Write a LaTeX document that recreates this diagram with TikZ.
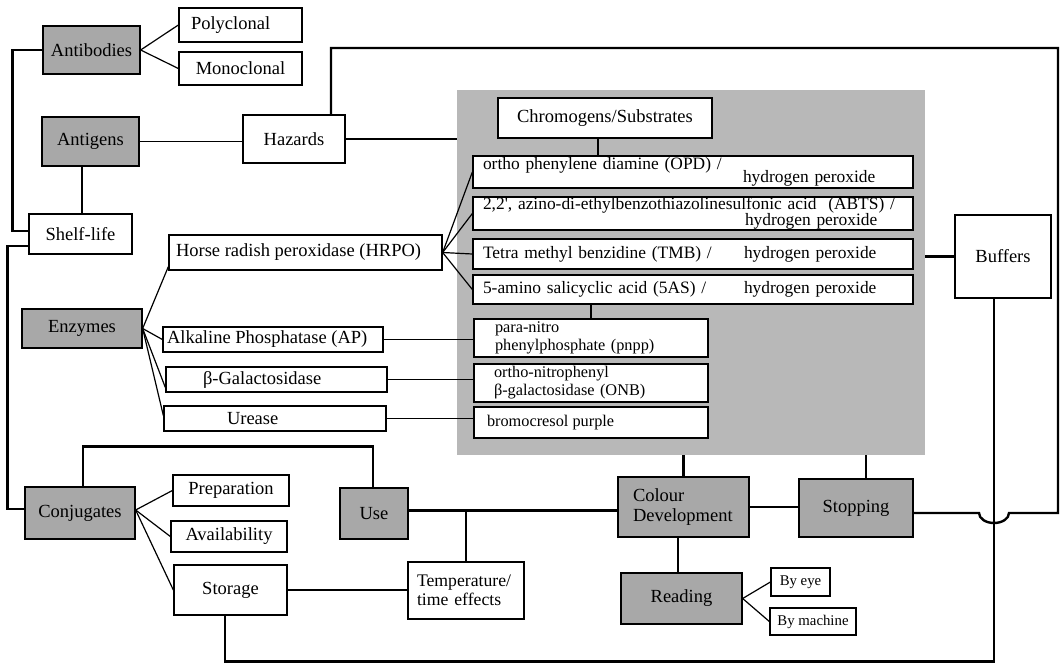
\documentclass[tikz,border=0pt]{standalone}
\usepackage{fontspec}
\setmainfont{Liberation Serif}
\usetikzlibrary{calc}
\definecolor{boxgray}{gray}{0.66}
\definecolor{areagray}{gray}{0.72}
\newcommand\fsMain{\fontsize{18.5}{20}\selectfont}
\newcommand\fsChem{\fontsize{17.4}{12.5}\selectfont\lineskiplimit=-50pt\relax}
\newcommand\fsSub{\fontsize{16.3}{18}\selectfont}
\newcommand\fsTemp{\fontsize{17.7}{19}\selectfont}
\newcommand\fsSmall{\fontsize{14.8}{16}\selectfont}
\begin{document}
\begin{tikzpicture}[x=1pt,y=-1pt,
  box/.style={draw, line width=1.3pt, fill=white, inner sep=0pt, font=\fsMain},
  shbox/.style={box, fill=boxgray},
  chem/.style={box, minimum width=440, text width=420pt, align=left, font=\fsChem},
  sub/.style={box, minimum width=234, align=left, font=\fsSub},
  thinln/.style={line width=1.2pt},
  thickln/.style={line width=2.4pt},
]
\useasboundingbox (0,0) rectangle (1060,664);

% shaded region holding the chromogen/substrate pairs
\node[fill=areagray, inner sep=0pt, minimum width=468, minimum height=365] (area) at (691,272.5) {};

% reagents
\node[shbox, minimum width=97, minimum height=48] (antibodies) at (91.5,50) {Antibodies};
\node[box, minimum width=123, minimum height=34] (polyclonal) at (240.5,25) {\makebox[99pt][l]{Polyclonal}};
\node[box, minimum width=123, minimum height=33] (monoclonal) at (240.5,68.5) {Monoclonal};
\node[shbox, minimum width=97, minimum height=49] (antigens) at (90.5,141.5) {Antigens};
\node[box, minimum width=102, minimum height=48] (hazards) at (294,139) {Hazards};
\node[box, minimum width=103, minimum height=40] (shelflife) at (80.5,234) {Shelf-life};

% enzymes
\node[shbox, minimum width=120, minimum height=39] (enzymes) at (82,328.5) {Enzymes};
\node[box, minimum width=273, minimum height=35] (hrpo) at (305.5,252.5) {\makebox[259pt][l]{Horse radish peroxidase (HRPO)}};
\node[box, minimum width=220, minimum height=25] (ap) at (273,339.5) {\makebox[212pt][l]{Alkaline Phosphatase (AP)}};
\node[box, minimum width=221, minimum height=25] (gal) at (276.5,379.5) {\makebox[147pt][l]{β-Galactosidase}};
\node[box, minimum width=222, minimum height=25] (urease) at (275,418.5) {\makebox[96pt][l]{Urease}};

% chromogens / substrates
\node[box, minimum width=214, minimum height=40] (chromo) at (605,118) {Chromogens/Substrates};
\node[chem, minimum height=32] (opd) at (693,172) {\mbox{ortho phenylene diamine (OPD) /}\\\hspace*{260pt}hydrogen peroxide};
\node[chem, minimum height=33] (abts) at (693,213.5) {\mbox{2,2\textquotesingle, azino-di-ethylbenzothiazolinesulfonic acid\ \ (ABTS) /}\\[3.5pt]\hspace*{262pt}hydrogen peroxide};
\node[chem, minimum height=30] (tmb) at (693,254) {\rlap{Tetra methyl benzidine (TMB) /}\hspace*{261pt}hydrogen peroxide};
\node[chem, minimum height=29] (fiveas) at (693,289.5) {\rlap{5-amino salicyclic acid (5AS) /}\hspace*{261pt}hydrogen peroxide};
\node[sub, minimum height=38, text width=192pt] (pnpp) at (591,338) {para-nitro\\\mbox{phenylphosphate (pnpp)}};
\node[sub, minimum height=38, text width=194pt] (onb) at (591,383) {\mbox{ortho-nitrophenyl}\\\mbox{β-galactosidase (ONB)}};
\node[box, font=\fsSub, minimum width=234, minimum height=31] (bromo) at (591,422.5) {\makebox[208pt][l]{bromocresol purple}};

\node[box, minimum width=96, minimum height=83] (buffers) at (1003,256.5) {Buffers};

% conjugates and assay steps
\node[shbox, minimum width=110, minimum height=52] (conjugates) at (80,513) {Conjugates};
\node[box, minimum width=116, minimum height=31] (preparation) at (231,490.5) {Preparation};
\node[box, minimum width=116, minimum height=31] (availability) at (229,536.5) {Availability};
\node[box, minimum width=113, minimum height=50] (storage) at (230.5,590) {Storage};
\node[shbox, minimum width=68, minimum height=51] (use) at (374,513.5) {Use};
\node[box, minimum width=116, minimum height=57, text width=98pt, align=left, font=\fsTemp] (temp) at (466,590.5) {\mbox{Temperature/}\\time effects};
\node[shbox, minimum width=131, minimum height=60, text width=101pt, align=left] (colour) at (683.5,507) {Colour\\\mbox{Development}};
\node[shbox, minimum width=114, minimum height=58] (stopping) at (856,508) {Stopping};
\node[shbox, minimum width=121, minimum height=51] (reading) at (681.5,598.5) {Reading};
\node[box, font=\fsSmall, minimum width=59, minimum height=28] (byeye) at (800.5,582) {By eye};
\node[box, font=\fsSmall, minimum width=86, minimum height=27] (bymachine) at (813,621.5) {By machine};

% helper points on node borders
\coordinate (ag) at ([xshift=-8.5pt]antigens.south);
\coordinate (hz) at ([xshift=37pt]hazards.north);
\coordinate (st) at ([yshift=-5pt]stopping.east);
\coordinate (bv) at ([xshift=-9pt]buffers.south);
\coordinate (ue) at ([yshift=3pt]use.east);
\coordinate (cs) at ([xshift=-5.5pt]colour.south);
\coordinate (sn) at ([xshift=10pt]stopping.north);
\coordinate (cb) at ([xshift=-7pt]chromo.south);

% thin branches
\draw[thinln] (antibodies.east) -- (polyclonal.west);
\draw[thinln] (antibodies.east) -- (monoclonal.west);
\draw[thinln] (antigens.east) -- (antigens.east -| hazards.west);
\draw[thinln] (hazards.east) -- (hazards.east -| area.west);
\draw[thinln] (cb) -- (cb |- opd.north);
\draw[thinln] (pnpp.north |- fiveas.south) -- (pnpp.north);
\draw[thinln] (enzymes.east) -- ([yshift=4pt]hrpo.south west);
\draw[thinln] (enzymes.east) -- (ap.west);
\draw[thinln] (enzymes.east) -- ([yshift=-8pt]gal.west);
\draw[thinln] (enzymes.east) -- ([yshift=3pt]urease.west);
\draw[thinln] (hrpo.east) -- (opd.west);
\draw[thinln] (hrpo.east) -- (abts.west);
\draw[thinln] (hrpo.east) -- (tmb.west);
\draw[thinln] (hrpo.east) -- (fiveas.west);
\draw[thinln] (ap.east) -- (ap.east -| pnpp.west);
\draw[thinln] (gal.east) -- (gal.east -| onb.west);
\draw[thinln] (urease.east) -- (urease.east -| bromo.west);
\draw[thinln] ([yshift=3pt]conjugates.east) -- (preparation.west);
\draw[thinln] ([yshift=3pt]conjugates.east) -- (availability.west);
\draw[thinln] ([yshift=3pt]conjugates.east) -- (storage.west);
\draw[thinln] (reading.east) -- (byeye.west);
\draw[thinln] (reading.east) -- (bymachine.west);

% thick links
\draw[thickln] (antibodies.west) -- ++(-30,0) |- ([yshift=3pt]shelflife.west);
\draw[thickln] (ag) -- (ag |- shelflife.north);
\draw[thickln] ([yshift=-12pt]shelflife.west) -- ++(-21,0) |- ([yshift=4pt]conjugates.west);
\draw[thickln] ([xshift=3pt]conjugates.north) -- ++(0,-40) -| ([xshift=-1pt]use.north);
\draw[thickln] (storage.east) -- (storage.east -| temp.west);
\draw[thickln] (ue) -- (ue -| colour.west);
\draw[thickln] (temp.north |- ue) -- (temp.north);
\draw[thickln] (colour.north |- area.south) -- (colour.north);
\draw[thickln] (cs) -- (cs |- reading.north);
\draw[thickln] (colour.east) -- (colour.east -| stopping.west);
\draw[thickln] (sn) -- (sn |- area.south);
\draw[thickln] (buffers.west -| area.east) -- (buffers.west);
\draw[thickln] (bv) -- ++(0,363) -| ([xshift=-5.5pt]storage.south);
% stopping loop back to hazards, hopping over the buffers line
\draw[thickln] (st) -- ($(st -| bv)+(-15,0)$)
  arc[start angle=180, end angle=0, x radius=15, y radius=10]
  -- ++(49,0) -- ++(0,-465) -| (hz);
\end{tikzpicture}
\end{document}
